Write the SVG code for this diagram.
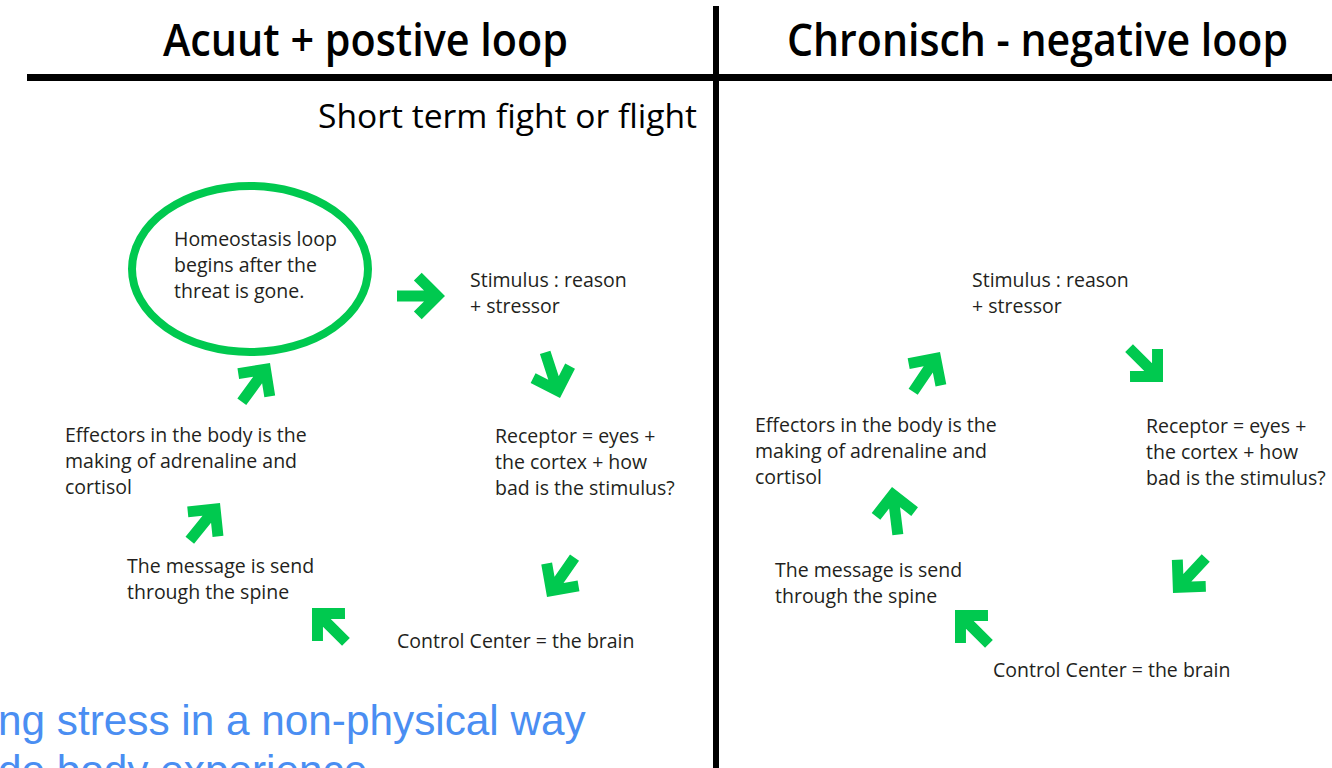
<svg xmlns="http://www.w3.org/2000/svg" width="1332" height="768" viewBox="0 0 1332 768">
<defs>
<style>
.t{font-family:"Open Sans","Liberation Sans",sans-serif;font-size:19.5px;fill:#231f20}
.h{font-family:"Open Sans","Liberation Sans",sans-serif;font-size:45px;font-weight:600;fill:#000}
.sub{font-family:"Open Sans","Liberation Sans",sans-serif;font-size:33.6px;fill:#000}
.blue{font-family:"Liberation Sans",Arial,sans-serif;font-size:42.3px;fill:#4a8ef2}
.ar{fill:#00c94f}
</style>
<polygon id="arrow" points="0,0 -23.3,-23.3 -31.1,-15.6 -21,-5.5 -48,-5.5 -48,5.5 -21,5.5 -31.1,15.6 -23.3,23.3"/>
</defs>
<rect width="1332" height="768" fill="#fff"/>
<g id="frame">
<rect x="27" y="74" width="1305" height="7" fill="#000"/>
<rect x="713" y="6" width="6" height="762" fill="#000"/>
</g>
<g id="titles">
<text class="h" x="163" y="56" textLength="405" lengthAdjust="spacingAndGlyphs">Acuut + postive loop</text>
<text class="h" x="787" y="56" textLength="501" lengthAdjust="spacingAndGlyphs">Chronisch - negative loop</text>
<text class="sub" x="697" y="128" text-anchor="end">Short term fight or flight</text>
</g>
<g id="left-homeostasis">
<ellipse cx="250" cy="269" rx="118" ry="83" fill="none" stroke="#00c94f" stroke-width="8"/>
<text class="t" x="174" y="246">Homeostasis loop</text>
<text class="t" x="174" y="272">begins after the</text>
<text class="t" x="174" y="298">threat is gone.</text>
</g>
<g id="left-stimulus">
<text class="t" x="470" y="287">Stimulus : reason</text>
<text class="t" x="470" y="313">+ stressor</text>
</g>
<g id="left-receptor">
<text class="t" x="495" y="443">Receptor = eyes +</text>
<text class="t" x="495" y="469">the cortex + how</text>
<text class="t" x="495" y="495">bad is the stimulus?</text>
</g>
<g id="left-control">
<text class="t" x="397" y="648">Control Center = the brain</text>
</g>
<g id="left-message">
<text class="t" x="127" y="573">The message is send</text>
<text class="t" x="127" y="599">through the spine</text>
</g>
<g id="left-effectors">
<text class="t" x="65" y="442">Effectors in the body is the</text>
<text class="t" x="65" y="468">making of adrenaline and</text>
<text class="t" x="65" y="494">cortisol</text>
</g>
<g id="right-stimulus">
<text class="t" x="972" y="287">Stimulus : reason</text>
<text class="t" x="972" y="313">+ stressor</text>
</g>
<g id="right-receptor">
<text class="t" x="1146" y="433">Receptor = eyes +</text>
<text class="t" x="1146" y="459">the cortex + how</text>
<text class="t" x="1146" y="485">bad is the stimulus?</text>
</g>
<g id="right-control">
<text class="t" x="993" y="677">Control Center = the brain</text>
</g>
<g id="right-message">
<text class="t" x="775" y="577">The message is send</text>
<text class="t" x="775" y="603">through the spine</text>
</g>
<g id="right-effectors">
<text class="t" x="755" y="432">Effectors in the body is the</text>
<text class="t" x="755" y="458">making of adrenaline and</text>
<text class="t" x="755" y="484">cortisol</text>
</g>
<g id="connectors" class="ar">
<use href="#arrow" transform="translate(445,296) rotate(0)"/>
<use href="#arrow" transform="translate(560,398) rotate(72)"/>
<use href="#arrow" transform="translate(547,597) rotate(125)"/>
<use href="#arrow" transform="translate(312,608) rotate(225)"/>
<use href="#arrow" transform="translate(220,503) rotate(-51)"/>
<use href="#arrow" transform="translate(270,363) rotate(-54)"/>
<use href="#arrow" transform="translate(940,352) rotate(-56)"/>
<use href="#arrow" transform="translate(892,487) rotate(-97)"/>
<use href="#arrow" transform="translate(955,610) rotate(225)"/>
<use href="#arrow" transform="translate(1163,382) rotate(45)"/>
<use href="#arrow" transform="translate(1173,593) rotate(133)"/>
</g>
<g id="notes">
<text class="blue" x="-2" y="735">ng stress in a non-physical way</text>
<text class="blue" x="-2" y="785">de body experience</text>
</g>
</svg>
